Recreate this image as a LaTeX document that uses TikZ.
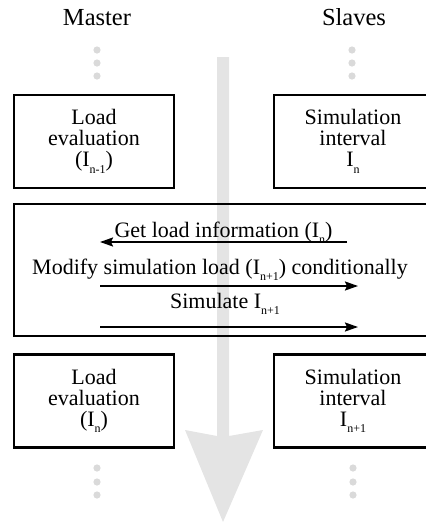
\documentclass[tikz,border=0pt]{standalone}
\usepackage{fontspec}
\setmainfont{Liberation Serif}
\usetikzlibrary{arrows.meta}
\newcommand\sbs[1]{\raisebox{-6.5pt}{\fontsize{12}{12}\selectfont #1}}
\definecolor{flowgray}{HTML}{E4E4E4}
\definecolor{dotgray}{HTML}{DADADA}
\tikzset{
  box/.style={draw, line width=2.4pt, align=center, minimum height=93pt,
    font=\fontsize{22}{22}\selectfont, inner sep=0pt},
  head/.style={font=\fontsize{24.5}{24.5}\selectfont, anchor=base},
  msgtext/.style={font=\fontsize{22}{22}\selectfont, anchor=base, inner sep=0pt},
  msg/.style={line width=1.8pt, -{Stealth[length=13pt,width=9pt,inset=2pt]}},
  dot/.style={fill=dotgray, draw=none},
}
\begin{document}
\begin{tikzpicture}[x=1pt,y=-1pt]
\useasboundingbox (0,0) rectangle (426,523);
\clip (0,0) rectangle (426,523);
% big gray time arrow
\fill[flowgray] (217,57) -- (229,57) -- (229,436) -- (263,430) -- (223,522)
  -- (185,430) -- (217,436) -- cycle;
% headers
\node[head] (master) at (97,25) {Master};
\node[head] (slaves) at (354,25) {Slaves};
% dots
\foreach \y in {50,63,76} {
  \fill[dot] (97,\y) circle (3.6);
  \fill[dot] (352,\y) circle (3.6);
}
\foreach \y in {468,482,495} {
  \fill[dot] (97,\y) circle (3.6);
  \fill[dot] (353,\y) circle (3.6);
}
% upper boxes
\node[box, minimum width=160pt] (le1) at (94,141.5)
  {Load\\[-1pt]evaluation\\[-1pt](I\sbs{n-1})};
\node[box, minimum width=158pt] (si1) at (353,141.5)
  {Simulation\\[-1pt]interval\\[-1pt]I\sbs{n}};
% middle frame
\node[draw, line width=2.4pt, minimum width=422pt, minimum height=132pt,
  inner sep=0pt] (mid) at (225,270) {};
\node[msgtext] (get) at (223.5,237) {Get load information (I\sbs{n})};
\node[msgtext] (mod) at (220,274) {Modify simulation load (I\sbs{n+1}) conditionally};
\node[msgtext] (sim) at (225,308) {Simulate I\sbs{n+1}};
\coordinate (g1) at (347,242);
\coordinate (g2) at (100,242);
\coordinate (m1) at (100,286);
\coordinate (m2) at (358,286);
\coordinate (s1) at (100,327);
\coordinate (s2) at (358,327);
\draw[msg] (g1) -- (g2);
\draw[msg] (m1) -- (m2);
\draw[msg] (s1) -- (s2);
% lower boxes
\node[box, minimum width=160pt] (le2) at (94,401)
  {Load\\[-1pt]evaluation\\[-1pt](I\sbs{n})};
\node[box, minimum width=158pt] (si2) at (353,401)
  {Simulation\\[-1pt]interval\\[-1pt]I\sbs{n+1}};
\end{tikzpicture}
\end{document}
